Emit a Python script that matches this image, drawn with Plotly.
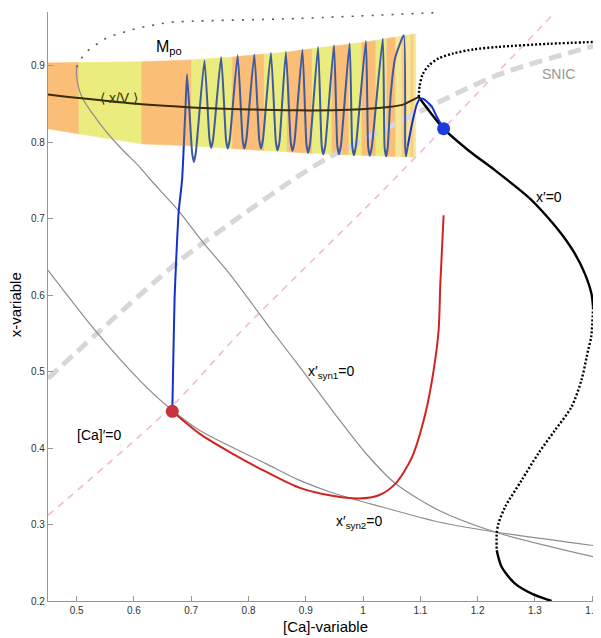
import plotly.graph_objects as go

# ---------------- data ----------------
# striped averaging band (M_po region): stripe boundaries, top and bottom edges
band_x = [0.4501, 0.5040, 0.6136, 0.7005, 0.7718, 0.8275, 0.8675, 0.9110, 0.9457, 0.9753,
          0.9979, 1.0223, 1.0414, 1.0570, 1.0675, 1.0762, 1.0831, 1.0884, 1.0918]
band_top = [0.9035, 0.9039, 0.9048, 0.9074, 0.9111, 0.9150, 0.9176, 0.9218, 0.9251, 0.9277,
            0.9301, 0.9329, 0.9353, 0.9373, 0.9386, 0.9397, 0.9405, 0.9410, 0.9414]
band_bot = [0.8173, 0.8107, 0.7976, 0.7950, 0.7914, 0.7889, 0.7872, 0.7852, 0.7842, 0.7833,
            0.7826, 0.7820, 0.7814, 0.7810, 0.7808, 0.7807, 0.7805, 0.7804, 0.7804]

# <x/V> averaged curve
avg_x = [0.450, 0.504, 0.6136, 0.7005, 0.8014, 0.8884, 0.9753, 1.0449, 1.071, 1.0849, 1.0971]
avg_y = [0.8623, 0.8575, 0.8493, 0.8453, 0.8427, 0.8414, 0.8421, 0.8458, 0.8493, 0.8545, 0.8588]

# M_po upper (unstable) branch, dotted
mpo_x = [0.500, 0.506, 0.5144, 0.5266, 0.5405, 0.5544, 0.5701, 0.5875, 0.6049, 0.6223,
         0.6414, 0.6623, 0.8884, 1.137]
mpo_y = [0.898, 0.9068, 0.9159, 0.9237, 0.9303, 0.9368, 0.9408, 0.9447, 0.9486, 0.9512,
         0.9538, 0.9565, 0.9616, 0.9695]

# x'_syn1 = 0
syn1_x = [0.500, 0.4997, 0.5092, 0.5405, 0.5753, 0.6101, 0.6275, 0.6565, 0.6797, 0.7202,
          0.7666, 0.8188, 0.8362, 0.8884, 0.9463, 1.0043, 1.0565, 1.1318, 1.2304, 1.4118]
syn1_y = [0.898, 0.8872, 0.8588, 0.8241, 0.7935, 0.7673, 0.752, 0.728, 0.7085, 0.6693,
          0.6280, 0.5757, 0.558, 0.507, 0.449, 0.3935, 0.3535, 0.3186, 0.2902, 0.2562]

# x'_syn2 = 0
syn2_x = [0.4501, 0.5348, 0.6101, 0.6565, 0.7144, 0.8304, 0.8884, 0.9463, 1.0332, 1.1318, 1.2304, 1.4118]
syn2_y = [0.6323, 0.5516, 0.4885, 0.4558, 0.4231, 0.3796, 0.358, 0.3415, 0.3229, 0.3033, 0.2902, 0.2715]

# SNIC curve
snic_x = [0.450, 0.535, 0.680, 0.784, 0.888, 0.9405, 1.0275, 1.233, 1.410]
snic_y = [0.491, 0.5495, 0.645, 0.702, 0.756, 0.780, 0.813, 0.887, 0.927]

# [Ca]' = 0
ca_x = [0.45, 0.667, 0.784, 1.022, 1.14, 1.333]
ca_y = [0.312, 0.455, 0.550, 0.727, 0.8175, 0.968]

# x' = 0 (solid / dotted pieces)
xn_top_x = [1.0971, 1.0988, 1.104, 1.1145, 1.1318, 1.158, 1.1927, 1.2362, 1.3231, 1.4101]
xn_top_y = [0.8588, 0.874, 0.8885, 0.900, 0.9094, 0.916, 0.9211, 0.9244, 0.9284, 0.931]
xn_s1_x = [1.0971, 1.1405, 1.184, 1.2304, 1.2884, 1.317, 1.346, 1.3696, 1.387, 1.3985, 1.4014]
xn_s1_y = [0.8588, 0.8175, 0.789, 0.763, 0.728, 0.706, 0.680, 0.654, 0.628, 0.602, 0.584]
xn_mid_x = [1.4014, 1.398, 1.3927, 1.381, 1.3637, 1.3348, 1.3057, 1.2767, 1.2478, 1.2362, 1.2332, 1.2332]
xn_mid_y = [0.584, 0.545, 0.5278, 0.4885, 0.4536, 0.4231, 0.3927, 0.3578, 0.3229, 0.3012, 0.2881, 0.2663]
xn_s2_x = [1.2332, 1.2419, 1.2652, 1.2941, 1.3289]
xn_s2_y = [0.2663, 0.2444, 0.2227, 0.2097, 0.2]

# red trajectory
red_x = [0.667, 0.7144, 0.7718, 0.8304, 0.8884, 0.9463, 0.9927, 1.0275, 1.0565, 1.0854,
         1.1087, 1.1231, 1.1318, 1.1348, 1.1405]
red_y = [0.448, 0.4188, 0.3927, 0.369, 0.3482, 0.3375, 0.3339, 0.3382, 0.3535, 0.3882,
         0.445, 0.5016, 0.5539, 0.6149, 0.7042]

# blue trajectory (bursting)
blue_x = [0.667, 0.668, 0.671, 0.674, 0.678, 0.684, 0.687, 0.690,
          0.6927, 0.7015, 0.7045, 0.7080,
          0.7231, 0.7318, 0.7348, 0.7383,
          0.7522, 0.7607, 0.7637, 0.7672,
          0.7810, 0.7897, 0.7927, 0.7962,
          0.8101, 0.8187, 0.8217, 0.8252,
          0.8391, 0.8476, 0.8506, 0.8541,
          0.8652, 0.8737, 0.8767, 0.8802,
          0.8941, 0.9010, 0.9040, 0.9075,
          0.9214, 0.9276, 0.9306, 0.9341,
          0.9492, 0.9549, 0.9579, 0.9614,
          0.9765, 0.9810, 0.9840, 0.9875,
          1.0049, 1.0088, 1.0118, 1.0153,
          1.0344, 1.0375, 1.0402, 1.0430, 1.0480, 1.0560,
          1.0710, 1.0735, 1.0750, 1.0780,
          1.0854, 1.0941, 1.1000, 1.1060, 1.1197, 1.1289, 1.1405]
blue_y = [0.448, 0.4885, 0.597, 0.650, 0.7085, 0.750, 0.795, 0.845,
          0.8885, 0.786, 0.7739, 0.786,
          0.9067, 0.804, 0.7924, 0.804,
          0.9111, 0.803, 0.7914, 0.803,
          0.9133, 0.803, 0.7914, 0.803,
          0.9146, 0.803, 0.7914, 0.803,
          0.9163, 0.801, 0.7891, 0.801,
          0.9176, 0.800, 0.7885, 0.800,
          0.9208, 0.798, 0.7859, 0.798,
          0.9242, 0.796, 0.7839, 0.796,
          0.9264, 0.796, 0.7839, 0.796,
          0.9290, 0.795, 0.7826, 0.795,
          0.9320, 0.794, 0.7820, 0.794,
          0.9352, 0.793, 0.7813, 0.793, 0.860, 0.910,
          0.9395, 0.793, 0.7813, 0.795,
          0.824, 0.850, 0.8567, 0.8560, 0.8467, 0.8327, 0.8175]
BLUE_SPLIT_IN = 6      # index where the path enters the band
BLUE_SPLIT_OUT = 65    # index where it leaves the band

red_dot = (0.667, 0.448)
blue_dot = (1.1405, 0.8175)

xticks = [0.5, 0.6, 0.7, 0.8, 0.9, 1.0, 1.1, 1.2, 1.3, 1.4]
xtick_text = ['0.5', '0.6', '0.7', '0.8', '0.9', '1', '1.1', '1.2', '1.3', '1.4']
yticks = [0.2, 0.3, 0.4, 0.5, 0.6, 0.7, 0.8, 0.9]
ytick_text = ['0.2', '0.3', '0.4', '0.5', '0.6', '0.7', '0.8', '0.9']

# ---------------- figure ----------------
FONT = "Liberation Sans, Arial, Helvetica, sans-serif"
ORANGE = "rgb(250,190,118)"
YELLOW = "rgb(234,236,125)"
ORANGE_L = "rgb(250,205,135)"
YELLOW_L = "rgb(244,232,150)"

fig = go.Figure()

# band stripes
n = len(band_x) - 1
for i in range(n):
    if band_x[i] >= 1.057:
        col = ORANGE_L if i % 2 == 0 else YELLOW_L
    else:
        col = ORANGE if i % 2 == 0 else YELLOW
    fig.add_trace(go.Scatter(
        x=[band_x[i], band_x[i + 1], band_x[i + 1], band_x[i], band_x[i]],
        y=[band_top[i], band_top[i + 1], band_bot[i + 1], band_bot[i], band_top[i]],
        mode="lines", fill="toself", fillcolor=col,
        line=dict(color=col, width=0.6), hoverinfo="skip"))

def line(x, y, color, width, dash=None, shape="spline", smoothing=0.8):
    fig.add_trace(go.Scatter(x=x, y=y, mode="lines",
                             line=dict(color=color, width=width, dash=dash,
                                       shape=shape, smoothing=smoothing),
                             hoverinfo="skip"))

# nullclines / curves
line(ca_x, ca_y, "rgb(245,185,210)", 1.6, dash="7px,6px")
line(snic_x, snic_y, "rgb(215,215,215)", 5, dash="13px,7px")
line(syn1_x, syn1_y, "rgb(140,140,140)", 1.2)
line(syn2_x, syn2_y, "rgb(140,140,140)", 1.2)
line(mpo_x, mpo_y, "rgb(90,90,90)", 1.6, dash="2px,8px")

line(xn_top_x, xn_top_y, "black", 2.4, dash="2px,2px")
line(xn_s1_x, xn_s1_y, "black", 2.4)
line(xn_mid_x, xn_mid_y, "black", 2.4, dash="2px,2px")
line(xn_s2_x, xn_s2_y, "black", 2.4)

line(red_x, red_y, "rgb(210,35,35)", 2.0)

# blue trajectory: vivid outside band, muted inside
line(blue_x[:BLUE_SPLIT_IN + 1], blue_y[:BLUE_SPLIT_IN + 1], "rgb(20,50,200)", 2.0, smoothing=0.5)
line(blue_x[BLUE_SPLIT_IN:BLUE_SPLIT_OUT + 1], blue_y[BLUE_SPLIT_IN:BLUE_SPLIT_OUT + 1],
     "rgb(62,90,160)", 2.0, smoothing=0.5)
line(blue_x[BLUE_SPLIT_OUT:], blue_y[BLUE_SPLIT_OUT:], "rgb(20,50,200)", 2.0, smoothing=0.5)

# averaged curve
line(avg_x, avg_y, "rgb(58,44,8)", 2.0)

# equilibria
fig.add_trace(go.Scatter(x=[red_dot[0]], y=[red_dot[1]], mode="markers",
                         marker=dict(size=13, color="rgb(200,50,60)"), hoverinfo="skip"))
fig.add_trace(go.Scatter(x=[blue_dot[0]], y=[blue_dot[1]], mode="markers",
                         marker=dict(size=13, color="rgb(25,60,225)"), hoverinfo="skip"))

# labels
ann = [
    dict(x=0.6605, y=0.9237, text="M<sub>po</sub>", font=dict(size=16, color="black")),
    dict(x=0.5736, y=0.8578, text="⟨ x/V ⟩", font=dict(size=14, color="rgb(60,55,10)")),
    dict(x=1.3405, y=0.8896, text="SNIC", font=dict(size=14, color="rgb(150,150,150)")),
    dict(x=1.324, y=0.7284, text="x′=0", font=dict(size=14, color="black")),
    dict(x=0.8995, y=0.499, text="x′<sub>syn1</sub>=0", xanchor="left",
         font=dict(size=14, color="black")),
    dict(x=0.5388, y=0.4166, text="[Ca]′=0", font=dict(size=14, color="black")),
    dict(x=0.9492, y=0.3029, text="x′<sub>syn2</sub>=0", xanchor="left",
         font=dict(size=14, color="black")),
]
for a in ann:
    a.setdefault("xanchor", "center")
    a.update(xref="x", yref="y", showarrow=False, yanchor="middle")
    fig.add_annotation(**a)

fig.add_annotation(xref="paper", yref="y", x=0, y=0.5866, xshift=-33, text="x-variable",
                   textangle=-90, showarrow=False, font=dict(size=15, color="black"),
                   xanchor="center", yanchor="middle")
fig.add_annotation(xref="x", yref="paper", x=0.9348, y=0, yshift=-25, text="[Ca]-variable",
                   showarrow=False, font=dict(size=15, color="black"),
                   xanchor="center", yanchor="middle")

axis_common = dict(showgrid=False, zeroline=False, showline=True, linecolor="rgb(150,150,150)",
                   linewidth=1.2, ticks="inside", ticklen=5, tickcolor="rgb(150,150,150)",
                   ticklabeloverflow="allow",
                   tickfont=dict(size=10, color="rgb(50,50,50)", family=FONT))
fig.update_xaxes(range=[0.45, 1.41], tickvals=xticks, ticktext=xtick_text, **axis_common)
fig.update_yaxes(range=[0.2, 0.97], tickvals=yticks, ticktext=ytick_text, **axis_common)

# the page body adds an 8px offset; size/margins compensate so the plot area
# lands where it is in the reference
fig.update_layout(width=593, height=630, margin=dict(l=40, r=1, t=4, b=37),
                  plot_bgcolor="white", paper_bgcolor="white", showlegend=False,
                  font=dict(family=FONT))

fig.write_html("out.html")
